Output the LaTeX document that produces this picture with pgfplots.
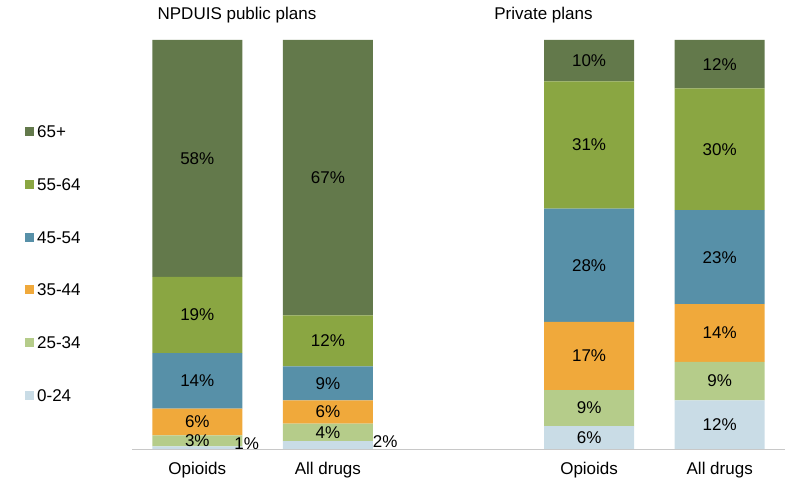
\documentclass[border=0pt]{standalone}
\usepackage{pgfplots}
\pgfplotsset{compat=1.18}
\usepackage{fontspec}
\setmainfont{Liberation Sans}
\definecolor{cA}{RGB}{201,220,230}
\definecolor{cB}{RGB}{181,204,138}
\definecolor{cC}{RGB}{240,169,59}
\definecolor{cD}{RGB}{87,144,168}
\definecolor{cE}{RGB}{138,166,66}
\definecolor{cF}{RGB}{99,121,75}
\definecolor{axgray}{RGB}{200,200,200}
\tikzset{lbl/.style={inner sep=0pt}}
\pgfplotsset{base/.style={scale only axis, width=653pt, height=409pt,
  xmin=-0.5, xmax=4.5, ymin=0, ymax=100, clip=false}}
\begin{document}
\fontsize{17pt}{20pt}\selectfont
\begin{tikzpicture}[font=\fontsize{17pt}{20pt}\selectfont]
\begin{axis}[base,
  ybar stacked, bar width=90pt,
  xtick={0,1,3,4}, xticklabels={Opioids,All drugs,Opioids,All drugs},
  ytick=\empty, major tick length=0pt,
  axis line style={draw=none},
  xticklabel style={anchor=base, yshift=-26pt, inner sep=0pt},
  reverse legend,
  legend cell align=left,
  legend image code/.code={\fill[#1] (0pt,-4.5pt) rectangle (9pt,4.5pt);},
  legend style={at={(-0.1639,0.7907)}, anchor=north west, draw=none, fill=none,
    inner sep=0pt, row sep=40.7pt, column sep=3pt,
    nodes={inner sep=0pt, text height=12pt, text depth=0pt}},
]
\addplot[fill=cA, draw=none] coordinates {(0,0.66) (1,1.9) (3,5.6) (4,11.9)};
\addlegendentry{0-24}
\addplot[fill=cB, draw=none] coordinates {(0,2.7) (1,4.3) (3,8.8) (4,9.4)};
\addlegendentry{25-34}
\addplot[fill=cC, draw=none] coordinates {(0,6.5) (1,5.7) (3,16.7) (4,14.1)};
\addlegendentry{35-44}
\addplot[fill=cD, draw=none] coordinates {(0,13.6) (1,8.3) (3,27.7) (4,23.0)};
\addlegendentry{45-54}
\addplot[fill=cE, draw=none] coordinates {(0,18.6) (1,12.5) (3,31.1) (4,29.8)};
\addlegendentry{55-64}
\addplot[fill=cF, draw=none] coordinates {(0,57.94) (1,67.3) (3,10.1) (4,11.8)};
\addlegendentry{65+}
\end{axis}
\begin{axis}[base, hide axis]
\draw[axgray] (rel axis cs:0,0) -- (rel axis cs:1,0);
\node[lbl] at (axis cs:0.378,1.4) {1\%};
\node[lbl] at (axis cs:0,2.01) {3\%};
\node[lbl] at (axis cs:0,6.61) {6\%};
\node[lbl] at (axis cs:0,16.66) {14\%};
\node[lbl] at (axis cs:0,32.76) {19\%};
\node[lbl] at (axis cs:0,71.0) {58\%};
\node[lbl] at (axis cs:1.439,1.7) {2\%};
\node[lbl] at (axis cs:1,4.05) {4\%};
\node[lbl] at (axis cs:1,9.05) {6\%};
\node[lbl] at (axis cs:1,16.05) {9\%};
\node[lbl] at (axis cs:1,26.45) {12\%};
\node[lbl] at (axis cs:1,66.35) {67\%};
\node[lbl] at (axis cs:3,2.8) {6\%};
\node[lbl] at (axis cs:3,10.0) {9\%};
\node[lbl] at (axis cs:3,22.75) {17\%};
\node[lbl] at (axis cs:3,44.95) {28\%};
\node[lbl] at (axis cs:3,74.35) {31\%};
\node[lbl] at (axis cs:3,94.95) {10\%};
\node[lbl] at (axis cs:4,5.95) {12\%};
\node[lbl] at (axis cs:4,16.6) {9\%};
\node[lbl] at (axis cs:4,28.35) {14\%};
\node[lbl] at (axis cs:4,46.9) {23\%};
\node[lbl] at (axis cs:4,73.3) {30\%};
\node[lbl] at (axis cs:4,94.1) {12\%};
\end{axis}
\node[anchor=base, inner sep=0pt] at (105pt,429.7pt) {NPDUIS public plans};
\node[anchor=base, inner sep=0pt] at (411.5pt,429.7pt) {Private plans};
\path (-132pt,-40pt) rectangle (676pt,449pt);
\end{tikzpicture}
\end{document}
